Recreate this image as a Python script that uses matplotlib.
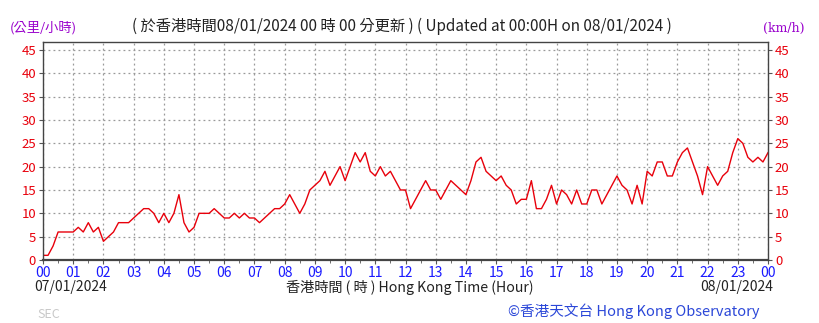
import matplotlib
matplotlib.use("Agg")
import matplotlib.pyplot as plt
import numpy as np

plt.rcParams['font.family'] = ['Noto Sans CJK TC', 'DejaVu Sans']

# wind speed (km/h) every 10 minutes from 00:00 on 07/01/2024 to 00:00 on 08/01/2024
speed = [
    1, 1, 3, 6, 6, 6,        # 00
    6, 7, 6, 8, 6, 7,        # 01
    4, 5, 6, 8, 8, 8,        # 02
    9, 10, 11, 11, 10, 8,    # 03
    10, 8, 10, 14, 8, 6,     # 04
    7, 10, 10, 10, 11, 10,   # 05
    9, 9, 10, 9, 10, 9,      # 06
    9, 8, 9, 10, 11, 11,     # 07
    12, 14, 12, 10, 12, 15,  # 08
    16, 17, 19, 16, 18, 20,  # 09
    17, 20, 23, 21, 23, 19,  # 10
    18, 20, 18, 19, 17, 15,  # 11
    15, 11, 13, 15, 17, 15,  # 12
    15, 13, 15, 17, 16, 15,  # 13
    14, 17, 21, 22, 19, 18,  # 14
    17, 18, 16, 15, 12, 13,  # 15
    13, 17, 11, 11, 13, 16,  # 16
    12, 15, 14, 12, 15, 12,  # 17
    12, 15, 15, 12, 14, 16,  # 18
    18, 16, 15, 12, 16, 12,  # 19
    19, 18, 21, 21, 18, 18,  # 20
    21, 23, 24, 21, 18, 14,  # 21
    20, 18, 16, 18, 19, 23,  # 22
    26, 25, 22, 21, 22, 21,  # 23
    23,
]
hours = np.arange(len(speed)) / 6.0
x_labels = ["00", "01", "02", "03", "04", "05", "06", "07", "08", "09", "10", "11",
            "12", "13", "14", "15", "16", "17", "18", "19", "20", "21", "22", "23", "00"]
y_ticks = [0, 5, 10, 15, 20, 25, 30, 35, 40, 45]

fig = plt.figure(figsize=(8.19, 3.23), dpi=100)
ax = fig.add_axes([43/819, 1-260/323, (768-43)/819, (260-42)/323])

ax.plot(hours, speed, color='#e8000b', lw=1.0)
ax.set_xlim(0, 24)
ax.set_ylim(0, 46.7)
ax.set_xticks(range(25))
ax.set_xticklabels(x_labels, color='#1a1aff', fontsize=10)
ax.set_xticks(np.arange(0.5, 24, 1), minor=True)
ax.set_yticks(y_ticks)
ax.set_yticklabels([str(v) for v in y_ticks], color='#e8000b', fontsize=9.5)
ax.tick_params(axis='y', which='both', left=True, right=True, labelleft=True, labelright=True,
               length=3, pad=2, color='#555555')
ax.tick_params(axis='x', which='major', length=3, pad=1, color='#555555')
ax.tick_params(axis='x', which='minor', length=2, color='#555555')
ax.grid(True, which='major', color='#999999', linestyle=(0, (1.5, 2.5)), lw=0.9)
for s in ax.spines.values():
    s.set_color('#444444')
    s.set_linewidth(1.0)
ax.spines['bottom'].set_linewidth(1.6)

fig.text(10/819, 1-28/323, "(公里/小時)", color='#9900cc', fontsize=9.5, va='center', ha='left')
fig.text(402/819, 1-26/323, "( 於香港時間08/01/2024 00 時 00 分更新 ) ( Updated at 00:00H on 08/01/2024 )",
         color='#222222', fontsize=11, va='center', ha='center')
fig.text(805/819, 1-28/323, "(km/h)", color='#9900cc', fontsize=9, va='center', ha='right',
         family=['DejaVu Serif'])
fig.text(34/819, 1-287/323, "07/01/2024", color='#222222', fontsize=10, va='center', ha='left')
fig.text(410/819, 1-287/323, "香港時間 ( 時 ) Hong Kong Time (Hour)", color='#222222', fontsize=10.2,
         va='center', ha='center')
fig.text(773/819, 1-287/323, "08/01/2024", color='#222222', fontsize=10, va='center', ha='right')
fig.text(37/819, 1-314/323, "SEC", color='#c8c8c8', fontsize=9, va='center', ha='left')
fig.text(760/819, 1-311/323, "©香港天文台 Hong Kong Observatory", color='#2b47d8', fontsize=10.5,
         va='center', ha='right')

fig.savefig("out.png", dpi=100)
